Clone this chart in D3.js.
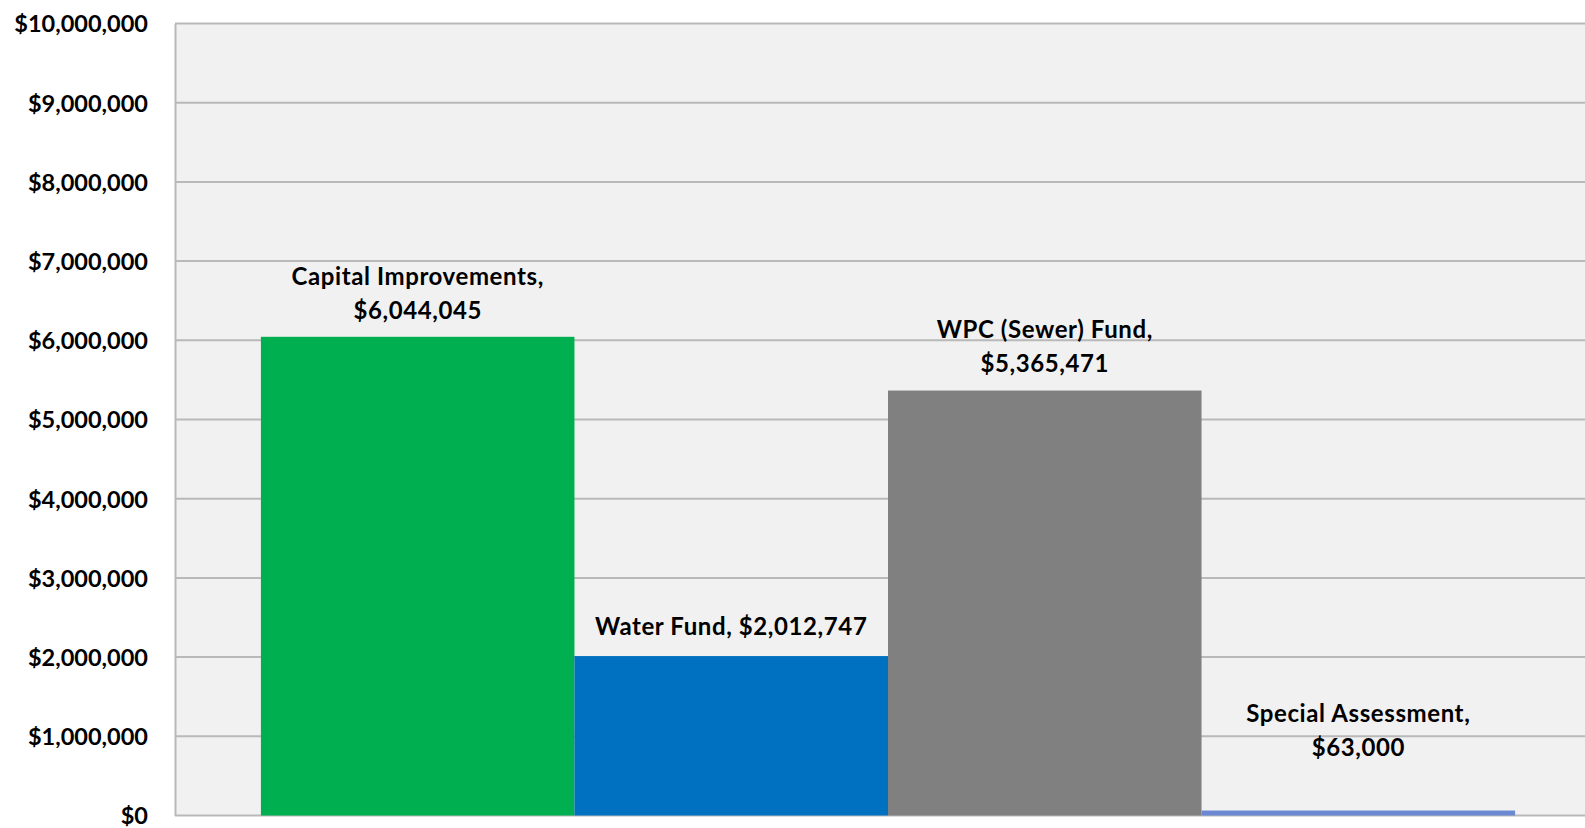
<!DOCTYPE html>
<html>
<head>
<meta charset="utf-8">
<script src="https://cdn.jsdelivr.net/npm/d3@7"></script>
<style>
  html, body { margin: 0; padding: 0; background: #ffffff; }
  svg { display: block; }
  text { font-family: Lato, "Open Sans", sans-serif; font-weight: 700; fill: #000; }
</style>
</head>
<body>
<svg id="chart" width="1585" height="828"></svg>
<script>
// Fund categories and their amounts
const categories = ["Capital Improvements", "Water Fund", "WPC (Sewer) Fund", "Special Assessment"];
const values = [6044045, 2012747, 5365471, 63000];
const barColors = ["#00b050", "#0070c0", "#808080", "#6a89d2"];
const tickValues = [0, 1000000, 2000000, 3000000, 4000000, 5000000, 6000000, 7000000, 8000000, 9000000, 10000000];

// Label layout: which labels wrap onto two lines, and how far above the bar the last line sits
const labelTwoLine = [true, false, true, true];
const labelLift = [18, 21, 19, 55];

const W = 1585, H = 828;
const plot = { left: 175, top: 23.5, bottom: 815.5, right: 1601 };

const svg = d3.select("#chart");

const y = d3.scaleLinear().domain([0, 10000000]).range([plot.bottom, plot.top]);
const x = d3.scaleBand().domain(categories).range([plot.left, plot.right])
  .paddingInner(0).paddingOuter(0.274);

const money = v => "$" + d3.format(",")(v);

// plot background
svg.append("rect")
  .attr("x", plot.left).attr("y", plot.top)
  .attr("width", W - plot.left).attr("height", plot.bottom - plot.top)
  .attr("fill", "#f1f1f1");

// horizontal gridlines
svg.append("g").selectAll("line").data(tickValues).join("line")
  .attr("x1", plot.left).attr("x2", W)
  .attr("y1", d => y(d)).attr("y2", d => y(d))
  .attr("stroke", "#b9b9b9").attr("stroke-width", 2);

// y axis via d3.axisLeft
const yAxis = d3.axisLeft(y).tickValues(tickValues).tickFormat(money).tickSize(0).tickPadding(27);
const gy = svg.append("g").attr("transform", `translate(${plot.left},0)`).call(yAxis);
gy.select(".domain").attr("stroke", "#b9b9b9").attr("stroke-width", 2);
gy.selectAll("text")
  .style("font-family", "Lato, 'Open Sans', sans-serif")
  .style("font-weight", 700)
  .style("font-size", "23.5px")
  .attr("fill", "#000")
  .attr("dy", "0.36em");

// bars
const rows = categories.map((c, i) => ({ c, v: values[i], color: barColors[i], two: labelTwoLine[i], lift: labelLift[i] }));
svg.append("g").selectAll("rect").data(rows).join("rect")
  .attr("x", d => x(d.c))
  .attr("y", d => y(d.v))
  .attr("width", x.bandwidth())
  .attr("height", d => y(0) - y(d.v))
  .attr("fill", d => d.color);

// value labels
const lab = svg.append("g").selectAll("text").data(rows).join("text")
  .attr("text-anchor", "middle")
  .style("font-size", "24px")
  .style("letter-spacing", "0.6px")
  .attr("x", d => x(d.c) + x.bandwidth() / 2)
  .attr("y", d => y(d.v) - d.lift);
lab.each(function (d) {
  const t = d3.select(this);
  if (d.two) {
    t.append("tspan").attr("x", x(d.c) + x.bandwidth() / 2).attr("dy", -34).text(d.c + ",");
    t.append("tspan").attr("x", x(d.c) + x.bandwidth() / 2).attr("dy", 34).text(money(d.v));
  } else {
    t.text(d.c + ", " + money(d.v));
  }
});
</script>
</body>
</html>
